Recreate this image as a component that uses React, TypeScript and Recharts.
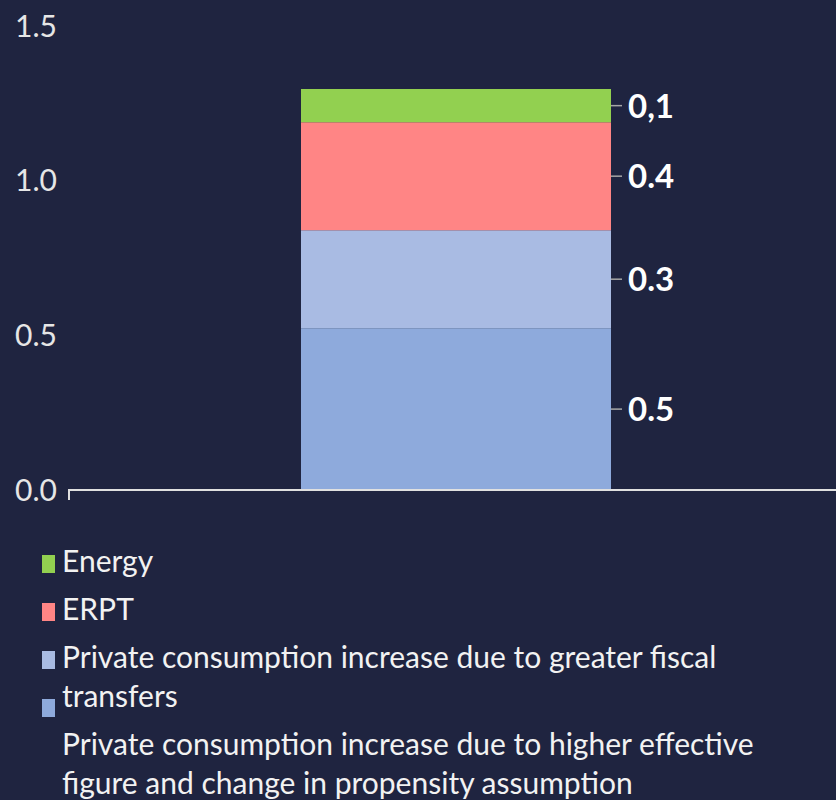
import { Bar, BarChart, LabelList, Legend, XAxis, YAxis, usePlotArea } from 'recharts';

const categories = ['Contribution'];
const propensity = [0.523];
const fiscal = [0.317];
const erpt = [0.349];
const energy = [0.107];

const yTicks = [0, 0.5, 1.0, 1.5];

// legend order top to bottom, as in the source
const seriesKeys = ['energy', 'erpt', 'fiscal', 'propensity'];
const seriesNames = [
  'Energy',
  'ERPT',
  'Private consumption increase due to greater fiscal\ntransfers',
  'Private consumption increase due to higher effective\nfigure and change in propensity assumption',
];
const seriesColors = ['#92D050', '#FF8585', '#A9BBE3', '#8EAADC'];
const segmentLabels = ['0,1', '0.4', '0.3', '0.5'];

const data = categories.map((name, i) => ({
  name,
  propensity: propensity[i],
  fiscal: fiscal[i],
  erpt: erpt[i],
  energy: energy[i],
}));

const BG = '#1F2440';
const FONT = 'Lato, "Noto Sans", sans-serif';

function makeLabel(text: string) {
  return (props: any) => {
    const { x, y, width, height } = props;
    const right = Number(x) + Number(width);
    const mid = Number(y) + Number(height) / 2;
    return (
      <g>
        <line x1={right} y1={mid} x2={right + 11} y2={mid} stroke="#A6A6A6" strokeWidth={1.5} />
        <text
          x={right + 17}
          y={mid}
          dy="0.36em"
          fill="#FFFFFF"
          fontSize={33}
          fontWeight={700}
          fontFamily={FONT}
        >
          {text}
        </text>
      </g>
    );
  };
}

function AxisStartTick() {
  const area = usePlotArea();
  if (!area) return null;
  const x0 = area.x + 1;
  const y0 = area.y + area.height;
  return <line x1={x0} y1={y0} x2={x0} y2={y0 + 10} stroke="#E0E0E0" strokeWidth={2} />;
}

function LegendBox() {
  return (
    <div style={{ position: 'relative', height: 300, fontFamily: FONT, color: '#F2F2F2', fontSize: 30 }}>
      {seriesNames.map((_, i) => (
        <span
          key={'m' + i}
          style={{
            position: 'absolute',
            left: 42,
            top: 55 + i * 48,
            width: 13,
            height: 18,
            background: seriesColors[i],
          }}
        />
      ))}
      <div style={{ paddingTop: 41, paddingLeft: 62 }}>
        {seriesNames.map((name, i) => (
          <div key={'t' + i} style={{ lineHeight: '39px', marginBottom: 9, whiteSpace: 'pre-line', textAlign: 'left' }}>
            {name}
          </div>
        ))}
      </div>
    </div>
  );
}

export default function App() {
  const stackOrder = [3, 2, 1, 0];
  return (
    <div style={{ width: 836, height: 800, background: BG, overflow: 'hidden' }}>
      <style>{`body{margin:0;background:${BG}}`}</style>
      <BarChart
        width={844}
        height={800}
        data={data}
        margin={{ top: 26, right: 0, bottom: 0, left: 0 }}
        style={{ background: BG }}
      >
        <XAxis
          dataKey="name"
          tick={false}
          tickLine={false}
          height={10}
          axisLine={{ stroke: '#E0E0E0', strokeWidth: 2 }}
        />
        <YAxis
          domain={[0, 1.5]}
          ticks={yTicks}
          width={68}
          axisLine={false}
          tickLine={false}
          tickSize={0}
          tickMargin={11}
          tickFormatter={(v: number) => v.toFixed(1)}
          tick={{ fill: '#E6E6E6', fontSize: 30, fontFamily: FONT }}
          interval={0}
        />
        {stackOrder.map((i) => (
          <Bar
            key={seriesKeys[i]}
            dataKey={seriesKeys[i]}
            name={seriesNames[i]}
            stackId="a"
            fill={seriesColors[i]}
            barSize={310}
            isAnimationActive={false}
          >
            <LabelList dataKey={seriesKeys[i]} content={makeLabel(segmentLabels[i])} />
          </Bar>
        ))}
        <AxisStartTick />
        <Legend
          verticalAlign="bottom"
          align="left"
          layout="horizontal"
          content={() => <LegendBox />}
          wrapperStyle={{ width: 836, left: 0 }}
        />
      </BarChart>
    </div>
  );
}
